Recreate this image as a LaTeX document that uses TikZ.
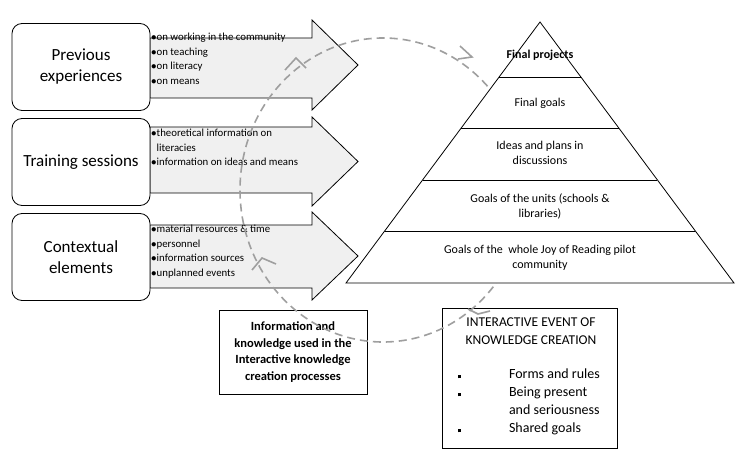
\documentclass[tikz,border=0pt]{standalone}
\usepackage{fontspec}
\setmainfont{Carlito}
\usetikzlibrary{arrows.meta}
\begin{document}
\begin{tikzpicture}[x=1pt,y=-1pt,
 src/.style={draw,thick,rounded corners=10pt,fill=white,align=center,font=\fontsize{17}{21}\selectfont},
 bul/.style={anchor=north west,align=left,font=\fontsize{10.8}{14.5}\selectfont,inner sep=1pt},
 lay/.style={align=center,font=\fontsize{12}{15}\selectfont},
 bx/.style={draw,thick,fill=white,align=center,font=\bfseries\fontsize{12.5}{16.5}\selectfont},
 cyc/.style={draw=gray!75,line width=1.6pt,dash pattern=on 8pt off 5pt},
 tip/.style={draw=gray!75,line width=1.6pt}]
\useasboundingbox (0,0) rectangle (735,470);
% arrows
\foreach \t/\b/\st/\sb/\n in {20/110/38/98/1,117/206/127/193/2,212/300/225/288/3}{
 \draw[thick,fill=gray!12] (150,\st) -- (312,\st) -- (312,\t) -- (358,{(\t+\b)/2}) -- (312,\b) -- (312,\sb) -- (150,\sb) -- cycle;
}
\node[src,minimum width=138pt,minimum height=87pt] (pe) at (81,67) {Previous\\experiences};
\node[src,minimum width=138pt,minimum height=87pt] (ts) at (81,162) {Training sessions};
\node[src,minimum width=138pt,minimum height=87pt] (ce) at (81,257) {Contextual\\elements};
\node[bul] (b1) at (150,32) {$\bullet$on working in the community\\$\bullet$on teaching\\$\bullet$on literacy\\$\bullet$on means};
\node[bul] (b2) at (150,128) {$\bullet$theoretical information on\\\phantom{$\bullet$}literacies\\$\bullet$information on ideas and means};
\node[bul] (b3) at (150,224) {$\bullet$material resources \& time\\$\bullet$personnel\\$\bullet$information sources\\$\bullet$unplanned events};
% bottom boxes
\node[bx,minimum width=148pt,minimum height=84pt] (info) at (293,352) {Information and\\knowledge used in the\\Interactive knowledge\\creation processes};
\node[draw,thick,fill=white,minimum width=175pt,minimum height=140pt] (ev) at (530,378) {};
\node[font=\fontsize{13.5}{18}\selectfont,align=center,anchor=north] (evt) at (531,314) {INTERACTIVE EVENT OF\\KNOWLEDGE CREATION};
\node[font=\fontsize{14}{18}\selectfont,align=left,anchor=north west] (evl) at (454,365)
 {\rule{3.5pt}{3.5pt}\hspace{48pt}Forms and rules\\\rule{3.5pt}{3.5pt}\hspace{48pt}Being present\\\hspace{51.5pt}and seriousness\\\rule{3.5pt}{3.5pt}\hspace{48pt}Shared goals};
% cycle
\draw[cyc] (383,190) ellipse [x radius=143, y radius=152];
\draw[tip] (285,70) -- (296,58) -- (306,68);
\draw[tip] (252,270) -- (262,258) -- (276,264);
\draw[tip] (468,309) -- (478,314) -- (490,311);
% pyramid
\coordinate (apex) at (540,22);
\draw[thick,fill=white] (apex) -- (734,283) -- (346,283) -- cycle;
\foreach \y in {77,128,180,231}{
 \draw[thick] ({540-(\y-22)/261*194},\y) -- ({540+(\y-22)/261*194},\y);
}
\draw[tip] (460,46) -- (472,57) -- (458,59);
\node[lay,font=\bfseries\fontsize{12}{15}\selectfont] (l1) at (540,55) {Final projects};
\node[lay] (l2) at (540,103) {Final goals};
\node[lay] (l3) at (540,153) {Ideas and plans in\\discussions};
\node[lay] (l4) at (540,206) {Goals of the units (schools \&\\libraries)};
\node[lay] (l5) at (540,258) {Goals of the \ whole Joy of Reading pilot\\community};
\end{tikzpicture}
\end{document}
